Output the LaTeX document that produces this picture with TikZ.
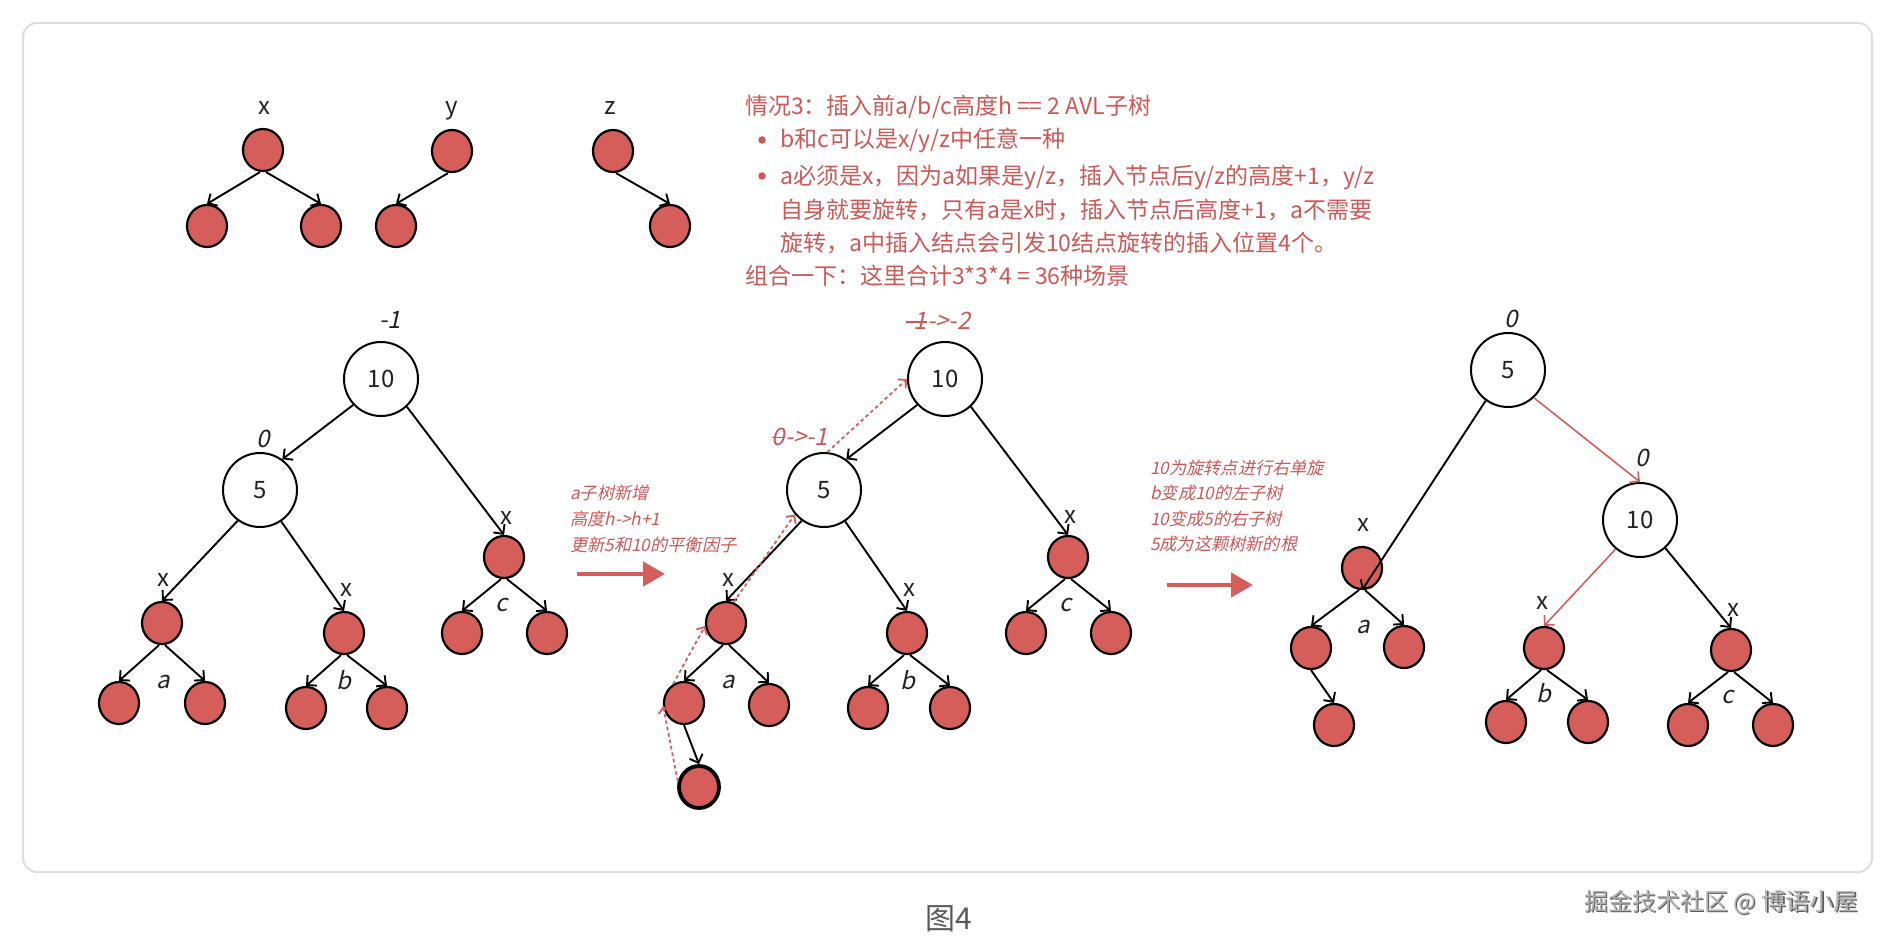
\documentclass[tikz,border=0pt]{standalone}
\usepackage{fontspec}
\setmainfont{Noto Sans CJK SC}
\newfontfamily\itf[FakeSlant=0.22]{Noto Sans CJK SC}
\usetikzlibrary{shapes.geometric,arrows.meta}
\definecolor{nred}{RGB}{213,94,90}
\definecolor{tred}{RGB}{207,88,86}
\definecolor{ink}{RGB}{34,34,34}
\definecolor{framegray}{RGB}{222,222,222}
\newcommand\mystrike[1]{\setbox0\hbox{#1}\rlap{\rule[0.30em]{\wd0}{0.07em}}\box0}
\begin{document}
\begin{tikzpicture}[x=1pt,y=-1pt,
  rn/.style={ellipse, draw=black, line width=2.2pt, fill=nred, minimum width=40pt, minimum height=42pt, inner sep=0pt},
  wn/.style={circle, draw=black, line width=2pt, fill=white, minimum size=74pt, inner sep=0pt, text=ink, font=\fontsize{24}{28}\selectfont},
  edge/.style={-{Straight Barb[length=7pt,width=14pt,line width=1.9pt]}, line width=1.9pt, draw=black},
  redge/.style={-{Straight Barb[length=7pt,width=14pt]}, line width=1.6pt, draw=nred},
  dotr/.style={-{Straight Barb[length=6pt,width=12pt]}, line width=1.8pt, draw=nred, dash pattern=on 3.5pt off 3pt},
  bigarrow/.style={-{Triangle[length=22pt,width=24pt]}, line width=4.5pt, draw=nred},
  bul/.style={circle, fill=tred, inner sep=0pt, minimum size=7.5pt},
  lbl/.style={text=ink, inner sep=0pt, font=\fontsize{24}{28}\selectfont},
  ilbl/.style={text=ink, inner sep=0pt, font=\itf\fontsize{24}{28}\selectfont},
  rlbl/.style={text=tred, inner sep=0pt, font=\itf\fontsize{24}{28}\selectfont},
  note/.style={text=tred, inner sep=0pt, anchor=west, font=\itf\fontsize{17.2}{20}\selectfont},
  txt/.style={text=tred, inner sep=0pt, anchor=west, font=\fontsize{23}{28}\selectfont}]
\useasboundingbox (0,0) rectangle (1884,941);
\fill[white] (0,0) rectangle (1884,941);
\draw[framegray, line width=2pt, rounded corners=14pt] (23,23) rectangle (1872,872);

% ---- top small trees ----
\node[rn] (tx) at (263,150) {};
\node[rn] (txl) at (207,226) {};
\node[rn] (txr) at (321,226) {};
\node[lbl, anchor=base] (lx) at (264,115) {x};
\node[rn] (ty) at (452,151) {};
\node[rn] (tyl) at (396,226) {};
\node[lbl, anchor=base] (ly) at (452,115) {y};
\node[rn] (tz) at (613,151) {};
\node[rn] (tzr) at (670,226) {};
\node[lbl, anchor=base] (lz) at (610,115) {z};
\draw[edge] ([xshift=-3pt]tx.south) -- (txl.north);
\draw[edge] ([xshift=3pt]tx.south) -- (txr.north);
\draw[edge] ([xshift=-4pt]ty.south) -- (tyl.north);
\draw[edge] ([xshift=3pt]tz.south) -- (tzr.north);

% ---- text block ----
\node[txt] (t1) at (745,107) {情况3：插入前a/b/c高度h == 2 AVL子树};
\node[bul] (bu1) at (762,140) {};
\node[txt] (t2) at (780,140) {b和c可以是x/y/z中任意一种};
\node[bul] (bu2) at (762,176) {};
\node[txt] (t3) at (780,177) {a必须是x，因为a如果是y/z，插入节点后y/z的高度+1，y/z};
\node[txt] (t4) at (780,210) {自身就要旋转，只有a是x时，插入节点后高度+1，a不需要};
\node[txt] (t5) at (780,243) {旋转，a中插入结点会引发10结点旋转的插入位置4个。};
\node[txt] (t6) at (745,276) {组合一下：这里合计3*3*4 = 36种场景};

% ---- left tree ----
\node[wn] (n10) at (381,379) {10};
\node[wn] (n5) at (260,490) {5};
\node[rn] (ap) at (162,623) {};
\node[rn] (al) at (119,703) {};
\node[rn] (ar) at (205,703) {};
\node[rn] (bp) at (344,633) {};
\node[rn] (bl) at (306,708) {};
\node[rn] (br) at (387,708) {};
\node[rn] (cp) at (504,557) {};
\node[rn] (cl) at (462,633) {};
\node[rn] (cr) at (547,633) {};
\node[ilbl] (lm1) at (390,320) {-1};
\node[ilbl] (l0) at (263,439) {0};
\node[lbl] (lxa) at (163,580) {x};
\node[lbl] (lxb) at (346,590) {x};
\node[lbl] (lxc) at (506,518) {x};
\node[ilbl] (la) at (163,682) {a};
\node[ilbl] (lb) at (344,680) {b};
\node[ilbl] (lc) at (502,605) {c};
\draw[edge] (n10.223) -- (n5.54);
\draw[edge] (n10.313) -- (cp.north);
\draw[edge] (n5.234) -- (ap.north);
\draw[edge] (n5.304) -- (bp.north);
\draw[edge] ([xshift=-3pt]ap.south) -- (al.north);
\draw[edge] ([xshift=3pt]ap.south) -- (ar.north);
\draw[edge] ([xshift=-3pt]bp.south) -- (bl.north);
\draw[edge] ([xshift=3pt]bp.south) -- (br.north);
\draw[edge] ([xshift=-3pt]cp.south) -- (cl.north);
\draw[edge] ([xshift=3pt]cp.south) -- (cr.north);

% ---- first arrow + note ----
\node[note] (na1) at (570,493) {a子树新增};
\node[note] (na2) at (570,519) {高度h->h+1};
\node[note] (na3) at (570,545) {更新5和10的平衡因子};
\coordinate (a1s) at (577,574);
\coordinate (a1e) at (665,574);
\draw[bigarrow] (a1s) -- (a1e);

% ---- middle tree ----
\node[wn] (m10) at (945,379) {10};
\node[wn] (m5) at (824,490) {5};
\node[rn] (map) at (726,623) {};
\node[rn] (mal) at (684,703) {};
\node[rn] (mar) at (769,705) {};
\node[rn, line width=3.8pt] (mnew) at (699,787) {};
\node[rn] (mbp) at (907,633) {};
\node[rn] (mbl) at (868,708) {};
\node[rn] (mbr) at (950,708) {};
\node[rn] (mcp) at (1068,557) {};
\node[rn] (mcl) at (1026,633) {};
\node[rn] (mcr) at (1111,633) {};
\node[rlbl] (mlm) at (938,321) {\mystrike{-1}->-2};
\node[rlbl] (ml0) at (800,437) {\mystrike{0}->-1};
\node[lbl] (mxa) at (728,580) {x};
\node[lbl] (mxb) at (909,590) {x};
\node[lbl] (mxc) at (1070,517) {x};
\node[ilbl] (mla) at (728,682) {a};
\node[ilbl] (mlb) at (908,680) {b};
\node[ilbl] (mlc) at (1066,605) {c};
\draw[edge] (m10.223) -- (m5.54);
\draw[edge] (m10.313) -- (mcp.north);
\draw[edge] (m5.234) -- (map.north);
\draw[edge] (m5.304) -- (mbp.north);
\draw[edge] ([xshift=-3pt]map.south) -- (mal.north);
\draw[edge] ([xshift=3pt]map.south) -- (mar.north);
\draw[edge] (mal.south) -- (mnew.north);
\draw[edge] ([xshift=-3pt]mbp.south) -- (mbl.north);
\draw[edge] ([xshift=3pt]mbp.south) -- (mbr.north);
\draw[edge] ([xshift=-3pt]mcp.south) -- (mcl.north);
\draw[edge] ([xshift=3pt]mcp.south) -- (mcr.north);
\draw[dotr] (mnew.165) -- (mal.188);
\draw[dotr] (mal.120) -- (map.188);
\draw[dotr] (map.70) -- (m5.220);
\draw[dotr] (m5.85) -- (m10.west);

% ---- second arrow + note ----
\node[note] (nb1) at (1150,468) {10为旋转点进行右单旋};
\node[note] (nb2) at (1150,493) {b变成10的左子树};
\node[note] (nb3) at (1150,519) {10变成5的右子树};
\node[note] (nb4) at (1150,544) {5成为这颗树新的根};
\coordinate (a2s) at (1167,585);
\coordinate (a2e) at (1253,585);
\draw[bigarrow] (a2s) -- (a2e);

% ---- right tree ----
\node[wn] (r5) at (1508,370) {5};
\node[wn] (r10) at (1640,520) {10};
\node[rn] (rap) at (1362,568) {};
\node[rn] (ral) at (1311,648) {};
\node[rn] (rar) at (1404,647) {};
\node[rn] (rnew) at (1334,725) {};
\node[rn] (rbp) at (1544,648) {};
\node[rn] (rbl) at (1506,722) {};
\node[rn] (rbr) at (1588,722) {};
\node[rn] (rcp) at (1731,650) {};
\node[rn] (rcl) at (1688,725) {};
\node[rn] (rcr) at (1773,725) {};
\node[ilbl] (r0a) at (1511,319) {0};
\node[ilbl] (r0b) at (1642,458) {0};
\node[lbl] (rxa) at (1363,525) {x};
\node[lbl] (rxb) at (1542,603) {x};
\node[lbl] (rxc) at (1733,610) {x};
\node[ilbl] (rla) at (1363,627) {a};
\node[ilbl] (rlb) at (1544,693) {b};
\node[ilbl] (rlc) at (1728,697) {c};
\draw[edge] (r5.234) -- (rap.south);
\draw[redge] (r5.313) -- (r10.north);
\draw[redge] (r10.230) -- (rbp.north);
\draw[edge] (r10.312) -- (rcp.north);
\draw[edge] ([xshift=-3pt]rap.south) -- (ral.north);
\draw[edge] ([xshift=3pt]rap.south) -- (rar.north);
\draw[edge] (ral.south) -- (rnew.north);
\draw[edge] ([xshift=-3pt]rbp.south) -- (rbl.north);
\draw[edge] ([xshift=3pt]rbp.south) -- (rbr.north);
\draw[edge] ([xshift=-3pt]rcp.south) -- (rcl.north);
\draw[edge] ([xshift=3pt]rcp.south) -- (rcr.north);

% ---- caption and watermark ----
\node[text=black!65, inner sep=0pt, font=\fontsize{30}{34}\selectfont] (cap) at (949,919) {图4};
\node[text=black!65, inner sep=0pt, anchor=east, font=\fontsize{24}{28}\selectfont] (wms) at (1859.2,903.2) {掘金技术社区 @ 博语小屋};
\node[text=black!30, inner sep=0pt, anchor=east, font=\fontsize{24}{28}\selectfont] (wm) at (1858,902) {掘金技术社区 @ 博语小屋};
\end{tikzpicture}
\end{document}
